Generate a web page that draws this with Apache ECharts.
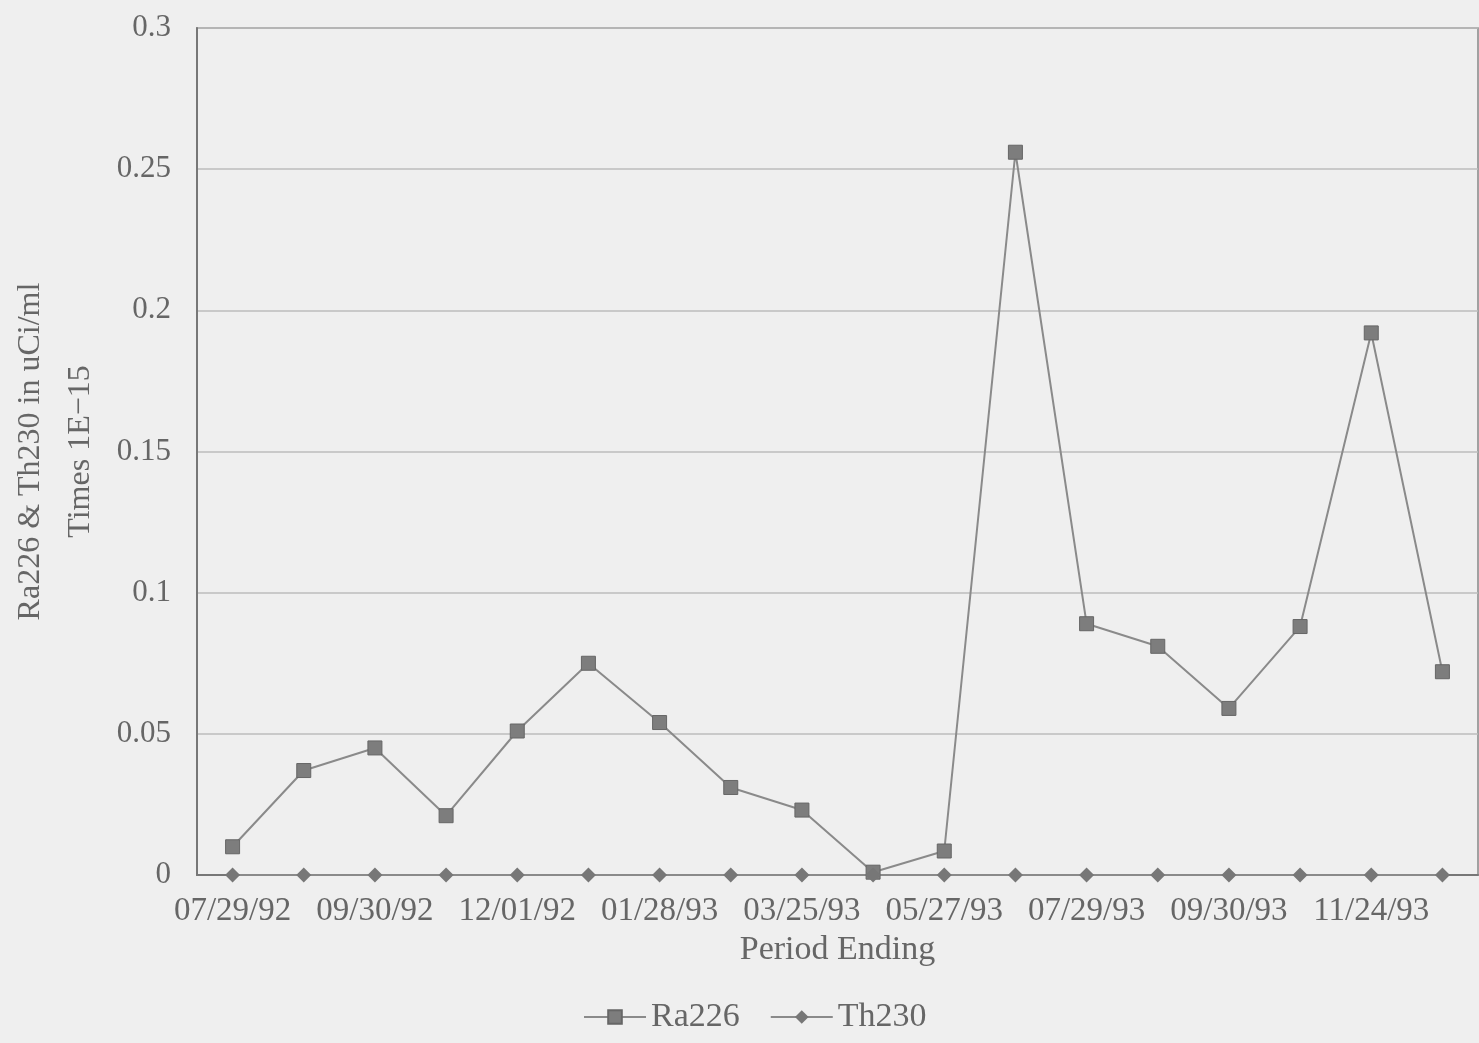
<!DOCTYPE html>
<html>
<head>
<meta charset="utf-8">
<script src="https://cdn.jsdelivr.net/npm/echarts@6/dist/echarts.min.js"></script>
<style>
  html, body { margin: 0; padding: 0; background: #efefef; }
  #chart { width: 1479px; height: 1043px; }
</style>
</head>
<body>
<div id="chart"></div>
<script>
// period ending dates (only every other one is labelled on the axis)
var periods = ['07/29/92', '08/27/92', '09/30/92', '10/29/92', '12/01/92', '12/30/92',
  '01/28/93', '02/25/93', '03/25/93', '04/29/93', '05/27/93', '06/29/93',
  '07/29/93', '08/26/93', '09/30/93', '10/28/93', '11/24/93', '12/29/93'];
var ra226 = [0.010, 0.037, 0.045, 0.021, 0.051, 0.075, 0.054, 0.031, 0.023,
  0.001, 0.0085, 0.256, 0.089, 0.081, 0.059, 0.088, 0.192, 0.072];
var th230 = [0, 0, 0, 0, 0, 0, 0, 0, 0, 0, 0, 0, 0, 0, 0, 0, 0, 0];

var textColor = '#666';
var font = '"Liberation Serif", "DejaVu Serif", serif';

var chart = echarts.init(document.getElementById('chart'));
chart.setOption({
  backgroundColor: '#efefef',
  animation: false,
  textStyle: { fontFamily: font, color: textColor },
  grid: { left: 197, right: 1, top: 28, bottom: 168, show: true,
    outerBoundsMode: 'none', containLabel: false,
    borderColor: '#888', borderWidth: 1.5 },
  legend: {
    bottom: 4, left: 578,
    itemWidth: 62, itemHeight: 17, itemGap: 30,
    textStyle: { fontFamily: font, fontSize: 34, color: textColor },
    data: ['Ra226', 'Th230']
  },
  xAxis: {
    type: 'category',
    data: periods,
    name: 'Period Ending',
    nameLocation: 'middle',
    nameGap: 58,
    nameTextStyle: { fontFamily: font, fontSize: 34, color: textColor },
    axisLine: { lineStyle: { color: '#777', width: 2 } },
    axisTick: { show: false },
    axisLabel: { interval: 1, fontFamily: font, fontSize: 33, color: textColor, margin: 20 }
  },
  yAxis: {
    type: 'value',
    min: 0, max: 0.3, interval: 0.05,
    name: 'Ra226 & Th230 in uCi/ml\nTimes 1E\u221215',
    nameLocation: 'middle',
    nameGap: 90,
    nameRotate: 90,
    nameTextStyle: { fontFamily: font, fontSize: 32, color: textColor, lineHeight: 50 },
    axisLine: { show: true, lineStyle: { color: '#777', width: 2 } },
    axisTick: { show: false },
    splitLine: { lineStyle: { color: '#bdbdbd', width: 1.5 } },
    axisLabel: { fontFamily: font, fontSize: 31, color: textColor, margin: 26,
      formatter: function (v) { return String(Math.round(v * 100) / 100); } }
  },
  series: [
    {
      name: 'Ra226',
      type: 'line',
      data: ra226,
      symbol: 'rect',
      symbolSize: 14,
      lineStyle: { color: '#8a8a8a', width: 2 },
      itemStyle: { color: '#7d7d7d', borderColor: '#666', borderWidth: 1 }
    },
    {
      name: 'Th230',
      type: 'line',
      data: th230,
      symbol: 'diamond',
      symbolSize: 15,
      lineStyle: { color: '#8a8a8a', width: 2 },
      itemStyle: { color: '#777' }
    }
  ]
});
</script>
</body>
</html>
